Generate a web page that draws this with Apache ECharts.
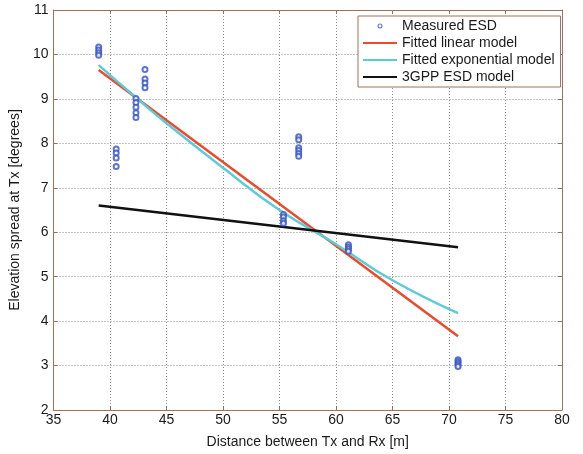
<!DOCTYPE html>
<html>
<head>
<meta charset="utf-8">
<script src="https://cdn.jsdelivr.net/npm/echarts@6/dist/echarts.min.js"></script>
<style>
  html, body { margin: 0; padding: 0; background: #fff; }
  #chart { width: 583px; height: 454px; }
</style>
</head>
<body>
<div id="chart"></div>
<script>
// measured ESD points (distance, spread)
const measuredX = [39, 39, 39, 39,
  40.55, 40.55, 40.55, 40.55,
  42.3, 42.3, 42.3, 42.3, 42.3,
  43.1, 43.1, 43.1, 43.1,
  55.35, 55.35, 55.35, 55.35,
  56.7, 56.7, 56.7, 56.7, 56.7, 56.7,
  61.1, 61.1, 61.1, 61.1,
  70.8, 70.8, 70.8, 70.8, 70.8]
const measuredY = [10.17, 10.1, 10.04, 9.98,
  7.87, 7.78, 7.67, 7.48,
  9.01, 8.92, 8.81, 8.69, 8.58,
  9.66, 9.45, 9.36, 9.25,
  6.4, 6.34, 6.26, 6.2,
  8.15, 8.08, 7.9, 7.84, 7.77, 7.71,
  5.72, 5.67, 5.62, 5.57,
  3.13, 3.09, 3.05, 3.01, 2.98]

// fitted linear model
const linearX = [39, 70.8]
const linearY = [9.65, 3.66]

// fitted exponential model
const expX = [39, 42.3, 45, 50, 55, 60, 65, 70.8]
const expY = [9.76, 9.03, 8.45, 7.45, 6.5, 5.73, 4.92, 4.18]

// 3GPP ESD model
const gppX = [39, 55, 70.8]
const gppY = [6.6, 6.13, 5.66]

const zip = (xs, ys) => xs.map((x, i) => [x, ys[i]])

const axisColor = '#a0705f'
const textColor = '#1a1a1a'
const font = 'Liberation Sans, Arial, sans-serif'

// legend icons: the leading moves fix the 34x14 box so the marks keep their size
const lineIcon = 'path://M0,0 M34,14 M0,6 L34,6 L34,8 L0,8 Z'
const ringIcon = 'path://M0,0 M34,14 M14.5,7 a2.5,2.5 0 1,0 5,0 a2.5,2.5 0 1,0 -5,0 Z M15.6,7 a1.4,1.4 0 1,1 2.8,0 a1.4,1.4 0 1,1 -2.8,0 Z'

const chart = echarts.init(document.getElementById('chart'))

const option = {
  animation: false,
  grid: { left: 52, right: 21, top: 10, bottom: 41 },
  legend: {
    orient: 'vertical',
    left: 358,
    top: 16,
    itemWidth: 34,
    itemHeight: 14,
    itemGap: 3,
    padding: [3, 6, 3, 5],
    backgroundColor: '#fff',
    borderColor: axisColor,
    borderWidth: 1,
    textStyle: { fontFamily: font, fontSize: 14, color: textColor },
    data: [
      { name: 'Measured ESD', icon: ringIcon },
      { name: 'Fitted linear model', icon: lineIcon },
      { name: 'Fitted exponential model', icon: lineIcon },
      { name: '3GPP ESD model', icon: lineIcon }
    ]
  },
  xAxis: [{
    type: 'value',
    min: 35, max: 80, interval: 5,
    name: 'Distance between Tx and Rx [m]',
    nameLocation: 'middle',
    nameGap: 25,
    nameTextStyle: { fontFamily: font, fontSize: 14, color: textColor },
    axisLine: { lineStyle: { color: axisColor, width: 1 } },
    axisTick: { inside: true, length: 4, lineStyle: { color: axisColor } },
    axisLabel: { fontFamily: font, fontSize: 14, color: textColor, margin: 3 },
    splitLine: { show: true, lineStyle: { color: '#8a8a8a', type: [1, 2], width: 1 } }
  }, {
    type: 'value',
    position: 'top',
    min: 35, max: 80, interval: 5,
    axisLine: { show: true, lineStyle: { color: axisColor, width: 1 } },
    axisTick: { show: true, inside: true, length: 4, lineStyle: { color: axisColor } },
    axisLabel: { show: false },
    splitLine: { show: false }
  }],
  yAxis: [{
    type: 'value',
    min: 2, max: 11, interval: 1,
    name: 'Elevation spread at Tx [degrees]',
    nameLocation: 'middle',
    nameGap: 28,
    nameTextStyle: { fontFamily: font, fontSize: 14, color: textColor },
    axisLine: { show: true, lineStyle: { color: axisColor, width: 1 } },
    axisTick: { show: true, inside: true, length: 4, lineStyle: { color: axisColor } },
    axisLabel: { fontFamily: font, fontSize: 14, color: textColor, margin: 5 },
    splitLine: { show: true, lineStyle: { color: '#8a8a8a', type: [1, 2], width: 1 } }
  }, {
    type: 'value',
    position: 'right',
    min: 2, max: 11, interval: 1,
    axisLine: { show: true, lineStyle: { color: axisColor, width: 1 } },
    axisTick: { show: true, inside: true, length: 4, lineStyle: { color: axisColor } },
    axisLabel: { show: false },
    splitLine: { show: false }
  }],
  series: [
    {
      name: 'Measured ESD',
      type: 'scatter',
      symbol: 'emptyCircle',
      symbolSize: 5,
      itemStyle: { color: '#3552c4', borderWidth: 1 },
      data: zip(measuredX, measuredY),
      z: 5
    },
    {
      name: 'Fitted linear model',
      type: 'line',
      symbol: 'none',
      lineStyle: { color: '#ec4a2a', width: 2.5 },
      itemStyle: { color: '#ec4a2a' },
      data: zip(linearX, linearY)
    },
    {
      name: 'Fitted exponential model',
      type: 'line',
      symbol: 'none',
      smooth: true,
      lineStyle: { color: '#5ccbd9', width: 2.5 },
      itemStyle: { color: '#5ccbd9' },
      data: zip(expX, expY)
    },
    {
      name: '3GPP ESD model',
      type: 'line',
      symbol: 'none',
      lineStyle: { color: '#111', width: 2.5 },
      itemStyle: { color: '#111' },
      data: zip(gppX, gppY)
    }
  ]
}

chart.setOption(option)
</script>
</body>
</html>
